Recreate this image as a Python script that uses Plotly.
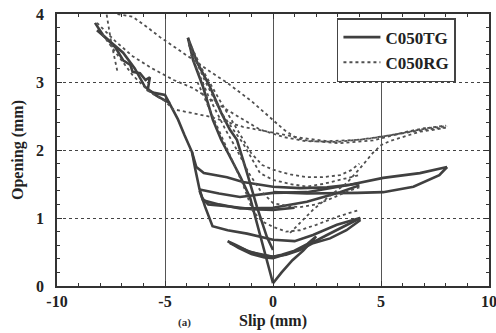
import plotly.graph_objects as go

# ---- C050TG (solid) branches: slip (mm), opening (mm) ----
tg1_x = [0, 0.4, 0.9, 1.4, 1.8, 2.0, 1.6, 1.0, 0.4, 0, -0.6, -1.2, -1.7, -2.1, -1.6, -1.0, -0.4, 0, 0.8, 1.6, 2.5, 3.3, 4.05]
tg1_y = [0.04, 0.2, 0.38, 0.52, 0.66, 0.73, 0.62, 0.52, 0.46, 0.43, 0.46, 0.52, 0.6, 0.66, 0.56, 0.47, 0.42, 0.41, 0.49, 0.6, 0.75, 0.88, 1.0]
tg2_x = [4.05, 3.4, 2.64, 1.85, 1.25, 0.6, 0, -1.06, -2.0]
tg2_y = [0.97, 0.82, 0.7, 0.63, 0.53, 0.46, 0.43, 0.5, 0.63]
tg3_x = [-8.24, -7.87, -7.3, -6.94, -6.6, -6.5, -6.16, -5.9, -5.7, -5.8, -5.5, -5.0, -4.7, -4.4, -4.1, -3.75,
         -3.6, -3.4, -3.15, -2.8, -2.1, -1.2, 0, 1.0, 1.85, 2.96, 4.03]
tg3_y = [3.87, 3.69, 3.51, 3.32, 3.25, 3.15, 3.13, 3.03, 3.07, 2.88, 2.84, 2.81, 2.63, 2.45, 2.22, 1.97,
         1.72, 1.42, 1.17, 0.88, 0.82, 0.77, 0.68, 0.66, 0.75, 0.9, 1.0]
tg3b_x = [-8.15, -7.5, -6.94, -6.4, -5.93, -5.4, -4.77]
tg3b_y = [3.76, 3.58, 3.43, 3.2, 2.93, 2.8, 2.69]
tg4_x = [-3.75, -3.55, -3.2, -2.13, -1.39, 0, 1.25, 2.5, 3.56, 4.0]
tg4_y = [1.97, 1.75, 1.66, 1.6, 1.53, 1.46, 1.44, 1.45, 1.49, 1.51]
tg5_x = [4.0, 3.1, 1.57, 0, -1.53, -2.5, -3.24, -3.4]
tg5_y = [1.48, 1.38, 1.24, 1.15, 1.14, 1.2, 1.26, 1.4]
tg5b_x = [-3.3, -3.0, -2.0, -1.0, 0, 1.0]
tg5b_y = [1.3, 1.2, 1.17, 1.13, 1.12, 1.15]
tg6_x = [-3.4, -2.5, -1.53, 0, 1.57, 3.56, 5.1, 6.8, 8.06]
tg6_y = [1.42, 1.36, 1.31, 1.37, 1.38, 1.49, 1.59, 1.66, 1.75]
tg7_x = [8.06, 7.7, 6.5, 5.1, 3.9, 1.57, 0]
tg7_y = [1.75, 1.63, 1.46, 1.38, 1.37, 1.36, 1.38]
tg8_x = [-3.94, -3.7, -3.24, -2.78, -2.4, -1.9, -1.5, -1.06, -0.6, -0.2, 0]
tg8_y = [3.65, 3.32, 2.93, 2.44, 2.15, 1.85, 1.6, 1.3, 0.75, 0.25, 0.04]
tg9_x = [-3.94, -3.5, -2.92, -2.4, -2.0, -1.67, -1.2, -0.74, -0.28, 0]
tg9_y = [3.65, 3.28, 2.93, 2.55, 2.3, 2.15, 1.66, 1.16, 0.72, 0.53]

# ---- C050RG (dotted) branches ----
rg1_x = [-7.7, -7.5, -7.3, -7.2]
rg1_y = [3.99, 3.6, 3.3, 3.15]
rg2_x = [-7.2, -6.5, -5.8, -5.23, -4.4, -3.7, -2.9, -2.13, -1.0, 0, 0.5, 1.1, 1.57, 3.1, 4.63, 6.2, 7.0, 8.06]
rg2_y = [4.0, 3.96, 3.8, 3.66, 3.48, 3.32, 3.15, 2.99, 2.72, 2.44, 2.3, 2.17, 2.14, 2.1, 2.14, 2.27, 2.32, 2.35]
rg3_x = [-8.15, -7.3, -6.5, -5.6, -4.6, -3.7, -2.13, -0.6, 0.5, 1.5, 3.0, 4.5, 6.0, 7.3, 8.0]
rg3_y = [3.87, 3.6, 3.38, 3.2, 3.03, 2.91, 2.59, 2.3, 2.19, 2.13, 2.12, 2.17, 2.25, 2.33, 2.36]
rg4_x = [-7.9, -7.3, -6.5, -5.7, -5.0, -4.63, -3.5, -2.92, -1.39, 0, 1.25, 2.5, 4.0, 5.5, 7.0, 8.0]
rg4_y = [3.7, 3.45, 3.1, 2.85, 2.72, 2.6, 2.53, 2.49, 2.34, 2.25, 2.18, 2.13, 2.15, 2.22, 2.3, 2.33]
rg5_x = [-3.9, -3.3, -2.5, -1.67, -1.0, -0.5, 0, 0.8, 1.57, 2.3, 3.1, 3.6, 4.0]
rg5_y = [3.6, 3.2, 2.75, 2.3, 1.95, 1.78, 1.71, 1.64, 1.6, 1.6, 1.63, 1.7, 1.8]
rg6_x = [-3.9, -3.2, -2.4, -1.39, -0.6, 0, 0.8, 1.57, 2.3, 3.1, 4.0]
rg6_y = [3.55, 3.05, 2.55, 2.1, 1.66, 1.56, 1.5, 1.46, 1.5, 1.56, 1.63]
rg7_x = [-3.8, -3.0, -2.2, -1.67, -1.1, -0.6, 0, 0.6, 1.25, 2.0, 2.8, 3.5, 4.0]
rg7_y = [3.4, 2.8, 2.3, 2.0, 1.65, 1.41, 1.22, 1.18, 1.16, 1.2, 1.3, 1.4, 1.45]
rg8_x = [-3.5, -2.8, -2.0, -1.4, -0.93, -0.5, 0, 0.6, 1.25, 2.0, 3.0, 3.6, 4.0]
rg8_y = [3.0, 2.5, 1.95, 1.5, 1.1, 0.95, 0.87, 0.8, 0.82, 0.9, 1.02, 1.08, 1.12]
rg9_x = [0.79, 1.3, 1.85, 2.6, 3.4, 4.0, 4.63, 5.0, 5.4, 6.1, 6.8, 7.5, 8.0]
rg9_y = [0.78, 0.95, 1.12, 1.32, 1.51, 1.72, 1.96, 2.07, 2.13, 2.2, 2.27, 2.3, 2.33]

x_ticks = [-10, -5, 0, 5, 10]
x_tick_labels = ["-10", "-5", "0", "5", "10"]
y_ticks = [0, 1, 2, 3, 4]
y_tick_labels = ["0", "1", "2", "3", "4"]


def join(pairs):
    xs, ys = [], []
    for bx, by in pairs:
        xs += list(bx) + [None]
        ys += list(by) + [None]
    return xs, ys


tg_x, tg_y = join([(tg1_x, tg1_y), (tg2_x, tg2_y), (tg3_x, tg3_y), (tg3b_x, tg3b_y), (tg4_x, tg4_y),
                   (tg5_x, tg5_y), (tg5b_x, tg5b_y), (tg6_x, tg6_y), (tg7_x, tg7_y), (tg8_x, tg8_y),
                   (tg9_x, tg9_y)])
rg_x, rg_y = join([(rg1_x, rg1_y), (rg2_x, rg2_y), (rg3_x, rg3_y), (rg4_x, rg4_y), (rg5_x, rg5_y),
                   (rg6_x, rg6_y), (rg7_x, rg7_y), (rg8_x, rg8_y), (rg9_x, rg9_y)])

FONT = "Liberation Serif"
fig = go.Figure()
fig.add_trace(go.Scatter(x=tg_x, y=tg_y, mode="lines", name="C050TG", connectgaps=False,
                         line=dict(color="#404040", width=2.6)))
fig.add_trace(go.Scatter(x=rg_x, y=rg_y, mode="lines", name="C050RG", connectgaps=False,
                         line=dict(color="#505050", width=1.8, dash="dot")))

axis_common = dict(showline=True, linecolor="#333", linewidth=1.5, mirror="allticks",
                   ticks="inside", ticklen=5, tickcolor="#333", tickwidth=1.2,
                   zeroline=False, showgrid=True, automargin=False, ticklabeloverflow="allow",
                   tickfont=dict(family=FONT, size=16, color="#222", weight="bold"))
fig.update_xaxes(range=[-10, 10], tickvals=x_ticks, ticktext=x_tick_labels,
                 gridcolor="#555", gridwidth=1, griddash="solid",
                 minor=dict(dtick=1, ticks="inside", ticklen=3, tickcolor="#333", showgrid=False),
                 title=dict(text="Slip (mm)", font=dict(family=FONT, size=16, color="#222", weight="bold"),
                            standoff=6),
                 **axis_common)
fig.update_yaxes(range=[0, 4], tickvals=y_ticks, ticktext=y_tick_labels,
                 gridcolor="#444", gridwidth=1, griddash="dot",
                 minor=dict(dtick=0.2, ticks="inside", ticklen=3, tickcolor="#333", showgrid=False),
                 ticklabelstandoff=8,
                 title=dict(text="Opening (mm)", font=dict(family=FONT, size=16, color="#222", weight="bold"),
                            standoff=8),
                 **axis_common)

fig.update_layout(
    width=496, height=333,
    margin=dict(l=57, r=7, t=14, b=47, autoexpand=False),
    paper_bgcolor="white", plot_bgcolor="white",
    showlegend=True,
    legend=dict(x=0.648, y=0.985, xanchor="left", yanchor="top",
                bgcolor="white", bordercolor="#444", borderwidth=1.5,
                font=dict(family=FONT, size=17, color="#222", weight="bold"),
                tracegroupgap=0, itemwidth=37),
    annotations=[dict(text="(a)", x=0.295, y=-0.166, xref="paper", yref="paper",
                      xanchor="center", yanchor="bottom", showarrow=False,
                      font=dict(family=FONT, size=11, color="#333", weight="bold"))],
)

fig.write_html("out.html")
